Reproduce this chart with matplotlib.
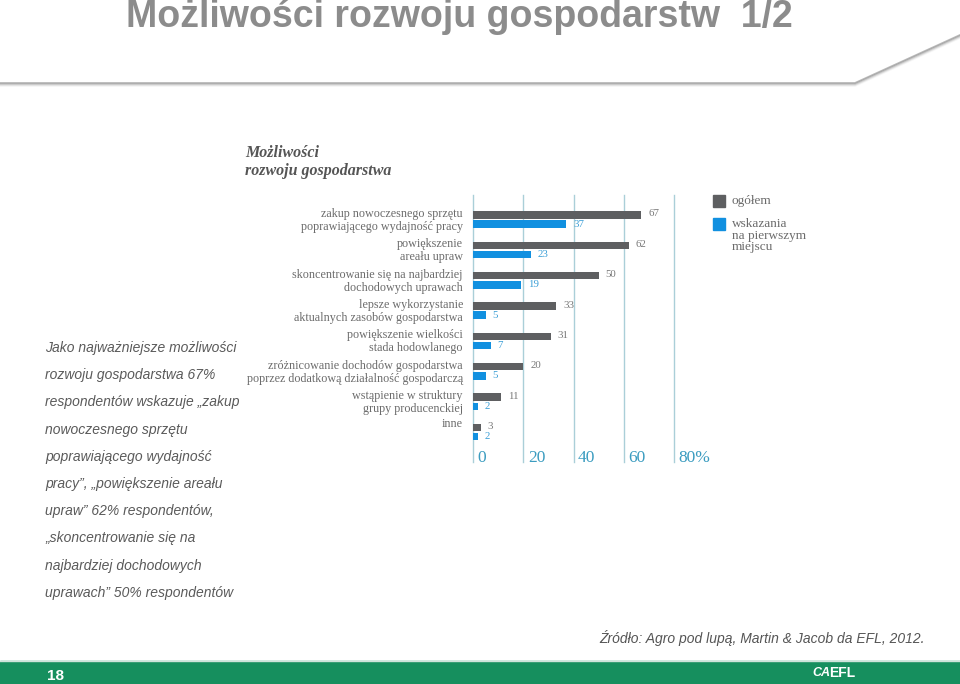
import numpy as np
import matplotlib
matplotlib.use('Agg')
import matplotlib.pyplot as plt
from matplotlib.patches import Rectangle
from matplotlib.lines import Line2D

#data
categories = ['zakup nowoczesnego sprzętu\npoprawiającego wydajność pracy',
              'powiększenie\nareału upraw',
              'skoncentrowanie się na najbardziej\ndochodowych uprawach',
              'lepsze wykorzystanie\naktualnych zasobów gospodarstwa',
              'powiększenie wielkości\nstada hodowlanego',
              'zróżnicowanie dochodów gospodarstwa\npoprzez dodatkową działalność gospodarczą',
              'wstąpienie w struktury\ngrupy producenckiej',
              'inne']
ogolem = [67, 62, 50, 33, 31, 20, 11, 3]
pierwsze = [37, 23, 19, 5, 7, 5, 2, 2]
ticks = [0, 20, 40, 60, 80]
tick_labels = ['0', '20', '40', '60', '80%']
series_names = ['ogółem', 'wskazania\nna pierwszym\nmiejscu']

left_text = ['Jako najważniejsze możliwości',
             'rozwoju gospodarstwa 67%',
             'respondentów wskazuje „zakup',
             'nowoczesnego sprzętu',
             'poprawiającego wydajność',
             'pracy”, „powiększenie areału',
             'upraw” 62% respondentów,',
             '„skoncentrowanie się na',
             'najbardziej dochodowych',
             'uprawach” 50% respondentów']

GRAY = '#5e5f61'
BLUE = '#1190e0'
TEAL = '#3b9cc0'
GRID = '#aacfd8'
TXT = '#6b6b6b'
GREEN = '#168f5e'
SERIF = ['Liberation Serif', 'DejaVu Serif']
SANS = ['Liberation Sans', 'DejaVu Sans']

W, H = 960, 684
fig = plt.figure(figsize=(W/100, H/100), dpi=100)
fig.patch.set_facecolor('white')

def fx(x):
    return x/W
def fy(y):
    return 1 - y/H

#header with shadow
for k, a in enumerate([0.6, 0.35, 0.18, 0.08]):
    fig.add_artist(Line2D([fx(0), fx(855), fx(960)], [fy(83+k), fy(83+k), fy(35+k)],
                          color='#8a8a8a', alpha=a, lw=1.3, transform=fig.transFigure))
fig.text(fx(459), fy(17), 'Możliwości rozwoju gospodarstw  1/2', ha='center', va='center',
         fontsize=27, fontweight='bold', color='#8c8c8c',
         family=['Liberation Sans Narrow', 'Liberation Sans', 'DejaVu Sans'])

#chart subtitle
fig.text(fx(245), fy(162), 'Możliwości\nrozwoju gospodarstwa', ha='left', va='center',
         fontsize=11.5, fontweight='bold', style='italic', color='#555555',
         family=SERIF, linespacing=1.1)

#main axes
ax = fig.add_axes([fx(473), fy(462), fx(674)-fx(473), (462-195)/H])
row = 30.36
off = 4.6/row
bh = 7.5/row
y = np.arange(len(categories))
ax.barh(y-off, ogolem, height=bh, color=GRAY, zorder=3)
ax.barh(y+off, pierwsze, height=bh, color=BLUE, zorder=3)
ax.set_xlim(0, 80)
ax.set_ylim((462-219.5)/row, -(219.5-195)/row)
ax.axis('off')
for t in ticks:
    ax.axvline(t, color=GRID, lw=1, zorder=1, clip_on=False)
for t, lab in zip(ticks, tick_labels):
    ax.text(t+1.8, (458.5-219.5)/row, lab, ha='left', va='center', fontsize=12.5,
            color=TEAL, family=SERIF)

for i, (a, b) in enumerate(zip(ogolem, pierwsze)):
    ax.text(a+2.8, i-off-0.03, str(a), ha='left', va='center', fontsize=7.8,
            color='#777777', family=SERIF, clip_on=False)
    ax.text(b+2.8, i+off, str(b), ha='left', va='center', fontsize=7.8,
            color='#3a9ed6', family=SERIF, clip_on=False)

for i, lab in enumerate(categories):
    yy = i + 0.03 if '\n' in lab else i - off - 0.1
    ax.text(-4, yy, lab, ha='right', va='center', fontsize=8.7, color=TXT,
            family=SERIF, linespacing=1.12, clip_on=False)

#legend
fig.add_artist(Rectangle((fx(713), fy(207)), 12/W, 12/H, color=GRAY, transform=fig.transFigure))
fig.add_artist(Rectangle((fx(713), fy(230)), 12/W, 12/H, color=BLUE, transform=fig.transFigure))
fig.text(fx(732), fy(201), series_names[0], ha='left', va='center', fontsize=9.5,
         color=TXT, family=SERIF)
fig.text(fx(732), fy(218), series_names[1], ha='left', va='top', fontsize=9.5,
         color=TXT, family=SERIF, linespacing=0.95)

#left comment
for k, line in enumerate(left_text):
    fig.text(fx(45), fy(348+27.2*k), line, ha='left', va='center', fontsize=10,
             style='italic', color='#5a5a5a', family=SANS)

fig.text(fx(925), fy(638), 'Źródło: Agro pod lupą, Martin & Jacob da EFL, 2012.', ha='right',
         va='center', fontsize=10, style='italic', color='#555555', family=SANS)

#footer
fig.add_artist(Rectangle((0, 0), 1, 23/H, color=GREEN, transform=fig.transFigure))
fig.add_artist(Line2D([0, 1], [23.5/H, 23.5/H], color='#cfe3da', lw=1, transform=fig.transFigure))
fig.text(fx(55), fy(676), '18', ha='center', va='center', fontsize=11, fontweight='bold',
         color='white', family=SANS)
fig.text(fx(812), fy(673), 'CA', ha='left', va='center', fontsize=9, fontweight='bold',
         style='italic', color='white', family=SANS)
fig.text(fx(829), fy(673), 'EFL', ha='left', va='center', fontsize=10, fontweight='bold',
         color='white', family=SANS)

fig.savefig('out.png', dpi=100)
